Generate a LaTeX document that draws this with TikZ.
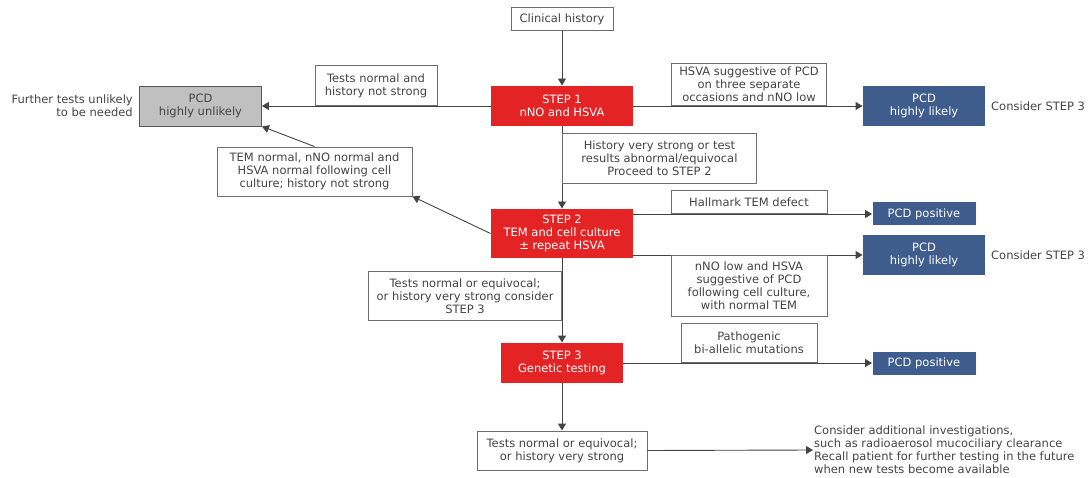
\documentclass[tikz,border=0pt]{standalone}
\usepackage{fontspec}
\setmainfont{DejaVu Sans}
\usetikzlibrary{arrows.meta}

\definecolor{stepred}{RGB}{228,36,36}
\definecolor{pcdblue}{RGB}{62,92,140}
\definecolor{unlgrey}{RGB}{192,192,192}
\definecolor{txtgrey}{RGB}{68,68,68}
\definecolor{edgegrey}{RGB}{110,110,110}

\begin{document}
\begin{tikzpicture}[
  x=1pt, y=-1pt,
  font=\fontsize{11.5}{13}\selectfont, text=txtgrey,
  box/.style={draw=edgegrey, line width=0.9pt, fill=white, align=center, inner sep=2pt},
  stepbox/.style={box, draw=none, fill=stepred, text=white, minimum width=142pt},
  pcd/.style={box, draw=none, fill=pcdblue, text=white},
  side/.style={inner sep=1pt},
  arr/.style={-{Triangle[length=7pt,width=8pt]}, line width=0.9pt, draw=txtgrey}
]
\useasboundingbox (0,0) rectangle (1089,478);
\def\xM{562}
\def\xC{749}
\def\xO{924}

% main column
\node[box, minimum width=102pt, minimum height=23pt] (clin) at (\xM,19) {Clinical history};
\node[stepbox, minimum height=40pt] (s1) at (\xM,106) {STEP 1\\nNO and HSVA};
\node[stepbox, minimum height=49pt] (s2) at (\xM,233.5) {STEP 2\\TEM and cell culture\\± repeat HSVA};
\node[stepbox, minimum width=122pt, minimum height=40pt] (s3) at (\xM,363) {STEP 3\\Genetic testing};
\node[box, minimum width=170pt, minimum height=39pt] (c9) at (\xM,450.5) {Tests normal or equivocal;\\or history very strong};

% outcomes
\node[box, draw=edgegrey!80!black, fill=unlgrey, minimum width=122pt, minimum height=40pt] (unlik) at (200.5,106) {PCD\\highly unlikely};
\node[pcd, minimum width=122pt, minimum height=40pt] (lik1) at (\xO,106) {PCD\\highly likely};
\node[pcd, minimum width=103pt, minimum height=23pt] (pos1) at (\xO,214) {PCD positive};
\node[pcd, minimum width=122pt, minimum height=40pt] (lik2) at (\xO,255) {PCD\\highly likely};
\node[pcd, minimum width=103pt, minimum height=23pt] (pos2) at (\xO,363) {PCD positive};

% side notes
\node[side, anchor=east, align=right] (furth) at (134,106) {Further tests unlikely\\to be needed};
\node[side, anchor=west] (cons1) at (990,106) {Consider STEP 3};
\node[side, anchor=west] (cons2) at (990,255) {Consider STEP 3};
\node[side, anchor=west, align=left] (recall) at (813,450) {Consider additional investigations,\\such as radioaerosol mucociliary clearance\\Recall patient for further testing in the future\\when new tests become available};

% arrows
\draw[arr] (clin) -- (s1);
\draw[arr] (s1) -- (s2);
\draw[arr] (s2) -- (s3);
\draw[arr] (s3) -- (c9);
\draw[arr] (s1.west) -- (unlik.east);
\draw[arr] (s1.east) -- (lik1.west);
\draw[arr] (s2.east |- pos1) -- (pos1.west);
\draw[arr] (s2.east |- lik2) -- (lik2.west);
\draw[arr] (s3.east) -- (pos2.west);
\draw[arr] (c9.east) -- (recall.west);

% condition labels
\node[box, anchor=south, minimum width=122pt, minimum height=40pt] (c1) at (376,106) {Tests normal and\\history not strong};
\node[box, anchor=south, minimum width=155pt, minimum height=42pt] (c2) at (\xC,106) {HSVA suggestive of PCD\\on three separate\\occasions and nNO low};
\node[box, anchor=north west, minimum width=194pt, minimum height=50pt] (c3) at (\xM,133) {History very strong or test\\results abnormal/equivocal\\Proceed to STEP 2};
\node[box, minimum width=195pt, minimum height=49pt] (c4) at (314.5,171.5) {TEM normal, nNO normal and\\HSVA normal following cell\\culture; history not strong};
\node[box, anchor=south, minimum width=156pt, minimum height=23pt] (c5) at (\xC,214) {Hallmark TEM defect};
\node[box, anchor=north, minimum width=156pt, minimum height=61pt] (c6) at (\xC,255) {nNO low and HSVA\\suggestive of PCD\\following cell culture,\\with normal TEM};
\node[box, anchor=north east, minimum width=193pt, minimum height=49pt] (c7) at (\xM,271) {Tests normal or equivocal;\\or history very strong consider\\STEP 3};
\node[box, anchor=south, minimum width=136pt, minimum height=39pt] (c8) at (\xC,363) {Pathogenic\\bi-allelic mutations};

\draw[arr] (s2.west) -- (c4.south east);
\draw[arr] (c4.north) -- (unlik.south east);
\end{tikzpicture}
\end{document}
